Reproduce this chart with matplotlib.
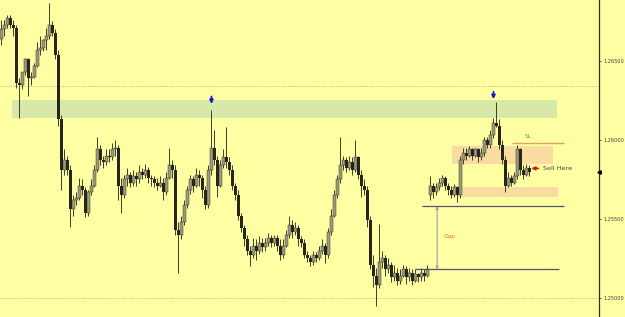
import matplotlib
matplotlib.use("Agg")
import matplotlib.pyplot as plt
import numpy as np

# hourly candles
opens = [1.2664, 1.2670, 1.2673, 1.2677, 1.2673, 1.2671, 1.2636, 1.2635, 1.2643, 1.2651,
         1.2639, 1.2640, 1.2647, 1.2657, 1.2658, 1.2663, 1.2666, 1.2673, 1.2668, 1.2654,
         1.2613, 1.2581, 1.2587, 1.2581, 1.2556, 1.2562, 1.2563, 1.2571, 1.2568, 1.2554,
         1.2567, 1.2571, 1.2581, 1.2594, 1.2587, 1.2586, 1.2590, 1.2589, 1.2594, 1.2595,
         1.2571, 1.2565, 1.2575, 1.2578, 1.2573, 1.2577, 1.2575, 1.2580, 1.2578, 1.2581,
         1.2576, 1.2575, 1.2573, 1.2571, 1.2573, 1.2567, 1.2576, 1.2584, 1.2581, 1.2543,
         1.2540, 1.2548, 1.2559, 1.2568, 1.2575, 1.2571, 1.2578, 1.2576, 1.2568, 1.2559,
         1.2581, 1.2595, 1.2587, 1.2571, 1.2584, 1.2589, 1.2586, 1.2581, 1.2571, 1.2565,
         1.2552, 1.2544, 1.2537, 1.2530, 1.2527, 1.2533, 1.2530, 1.2535, 1.2532, 1.2535,
         1.2538, 1.2535, 1.2538, 1.2533, 1.2527, 1.2533, 1.2540, 1.2546, 1.2542, 1.2544,
         1.2537, 1.2535, 1.2527, 1.2525, 1.2523, 1.2527, 1.2525, 1.2530, 1.2533, 1.2527,
         1.2542, 1.2552, 1.2565, 1.2575, 1.2584, 1.2587, 1.2582, 1.2586, 1.2581, 1.2589,
         1.2578, 1.2571, 1.2568, 1.2549, 1.2521, 1.2514, 1.2508, 1.2523, 1.2525, 1.2518,
         1.2521, 1.2513, 1.2516, 1.2511, 1.2514, 1.2518, 1.2513, 1.2516, 1.2511, 1.2515,
         1.2513, 1.2516, 1.2514, 1.2565, 1.2571, 1.2567, 1.2570, 1.2573, 1.2576, 1.2571,
         1.2568, 1.2565, 1.2570, 1.2565, 1.2587, 1.2592, 1.2590, 1.2594, 1.2590, 1.2594,
         1.2589, 1.2592, 1.2600, 1.2597, 1.2603, 1.2611, 1.2609, 1.2597, 1.2587, 1.2571,
         1.2576, 1.2573, 1.2577, 1.2594, 1.2581, 1.2578, 1.2582]
highs = [1.2676, 1.2676, 1.2679, 1.2679, 1.2676, 1.2673, 1.2639, 1.2643, 1.2652, 1.2652,
         1.2643, 1.2649, 1.2662, 1.2666, 1.2664, 1.2671, 1.2687, 1.2675, 1.2670, 1.2657,
         1.2616, 1.2594, 1.2590, 1.2584, 1.2565, 1.2567, 1.2576, 1.2575, 1.2570, 1.2568,
         1.2575, 1.2584, 1.2602, 1.2597, 1.2590, 1.2594, 1.2594, 1.2598, 1.2600, 1.2597,
         1.2576, 1.2578, 1.2582, 1.2580, 1.2581, 1.2580, 1.2584, 1.2582, 1.2585, 1.2583,
         1.2578, 1.2577, 1.2576, 1.2577, 1.2576, 1.2580, 1.2595, 1.2587, 1.2584, 1.2548,
         1.2552, 1.2562, 1.2571, 1.2578, 1.2577, 1.2582, 1.2581, 1.2578, 1.2571, 1.2584,
         1.2619, 1.2606, 1.2590, 1.2587, 1.2594, 1.2608, 1.2589, 1.2584, 1.2573, 1.2568,
         1.2554, 1.2546, 1.2540, 1.2533, 1.2538, 1.2537, 1.2539, 1.2538, 1.2538, 1.2541,
         1.2540, 1.2540, 1.2540, 1.2537, 1.2537, 1.2543, 1.2552, 1.2549, 1.2548, 1.2546,
         1.2539, 1.2537, 1.2530, 1.2527, 1.2530, 1.2529, 1.2533, 1.2537, 1.2535, 1.2544,
         1.2556, 1.2568, 1.2578, 1.2602, 1.2590, 1.2589, 1.2590, 1.2589, 1.2600, 1.2590,
         1.2581, 1.2575, 1.2571, 1.2552, 1.2527, 1.2519, 1.2547, 1.2530, 1.2527, 1.2525,
         1.2523, 1.2521, 1.2519, 1.2518, 1.2521, 1.2520, 1.2519, 1.2518, 1.2518, 1.2516,
         1.2519, 1.2518, 1.2521, 1.2577, 1.2573, 1.2573, 1.2576, 1.2578, 1.2577, 1.2573,
         1.2571, 1.2572, 1.2571, 1.2590, 1.2595, 1.2595, 1.2596, 1.2595, 1.2595, 1.2595,
         1.2595, 1.2602, 1.2602, 1.2606, 1.2614, 1.2624, 1.2613, 1.2600, 1.2590, 1.2580,
         1.2578, 1.2580, 1.2597, 1.2595, 1.2584, 1.2585, 1.2584]
lows = [1.2660, 1.2666, 1.2671, 1.2671, 1.2666, 1.2633, 1.2614, 1.2632, 1.2641, 1.2628,
        1.2635, 1.2639, 1.2646, 1.2654, 1.2656, 1.2657, 1.2664, 1.2666, 1.2651, 1.2609,
        1.2568, 1.2578, 1.2578, 1.2545, 1.2552, 1.2559, 1.2562, 1.2565, 1.2551, 1.2552,
        1.2565, 1.2570, 1.2580, 1.2584, 1.2582, 1.2584, 1.2586, 1.2587, 1.2590, 1.2562,
        1.2554, 1.2563, 1.2571, 1.2570, 1.2571, 1.2571, 1.2573, 1.2575, 1.2576, 1.2573,
        1.2571, 1.2570, 1.2568, 1.2570, 1.2562, 1.2565, 1.2575, 1.2576, 1.2540, 1.2516,
        1.2537, 1.2546, 1.2557, 1.2566, 1.2567, 1.2570, 1.2571, 1.2563, 1.2556, 1.2557,
        1.2578, 1.2584, 1.2564, 1.2570, 1.2582, 1.2582, 1.2578, 1.2568, 1.2562, 1.2549,
        1.2542, 1.2533, 1.2527, 1.2520, 1.2525, 1.2524, 1.2528, 1.2529, 1.2530, 1.2533,
        1.2532, 1.2533, 1.2530, 1.2524, 1.2525, 1.2532, 1.2538, 1.2538, 1.2540, 1.2533,
        1.2532, 1.2525, 1.2523, 1.2520, 1.2521, 1.2523, 1.2524, 1.2528, 1.2522, 1.2525,
        1.2540, 1.2551, 1.2563, 1.2573, 1.2581, 1.2580, 1.2581, 1.2578, 1.2580, 1.2575,
        1.2564, 1.2565, 1.2545, 1.2518, 1.2507, 1.2495, 1.2506, 1.2519, 1.2514, 1.2516,
        1.2510, 1.2511, 1.2508, 1.2509, 1.2513, 1.2509, 1.2511, 1.2508, 1.2510, 1.2510,
        1.2511, 1.2511, 1.2513, 1.2562, 1.2563, 1.2565, 1.2568, 1.2571, 1.2568, 1.2565,
        1.2563, 1.2564, 1.2561, 1.2563, 1.2585, 1.2587, 1.2589, 1.2587, 1.2589, 1.2586,
        1.2587, 1.2590, 1.2595, 1.2595, 1.2601, 1.2608, 1.2594, 1.2585, 1.2567, 1.2570,
        1.2571, 1.2572, 1.2575, 1.2578, 1.2575, 1.2577, 1.2577]
closes = [1.2670, 1.2673, 1.2677, 1.2673, 1.2671, 1.2636, 1.2635, 1.2643, 1.2651, 1.2639,
          1.2640, 1.2647, 1.2657, 1.2658, 1.2663, 1.2666, 1.2673, 1.2668, 1.2654, 1.2613,
          1.2581, 1.2587, 1.2581, 1.2556, 1.2562, 1.2563, 1.2571, 1.2568, 1.2554, 1.2567,
          1.2571, 1.2581, 1.2594, 1.2587, 1.2586, 1.2590, 1.2589, 1.2594, 1.2595, 1.2571,
          1.2565, 1.2575, 1.2578, 1.2573, 1.2577, 1.2575, 1.2580, 1.2578, 1.2581, 1.2576,
          1.2575, 1.2573, 1.2571, 1.2573, 1.2567, 1.2576, 1.2584, 1.2581, 1.2543, 1.2540,
          1.2548, 1.2559, 1.2568, 1.2575, 1.2571, 1.2578, 1.2576, 1.2568, 1.2559, 1.2581,
          1.2595, 1.2587, 1.2571, 1.2584, 1.2589, 1.2586, 1.2581, 1.2571, 1.2565, 1.2552,
          1.2544, 1.2537, 1.2530, 1.2527, 1.2533, 1.2530, 1.2535, 1.2532, 1.2535, 1.2538,
          1.2535, 1.2538, 1.2533, 1.2527, 1.2533, 1.2540, 1.2546, 1.2542, 1.2544, 1.2537,
          1.2535, 1.2527, 1.2525, 1.2523, 1.2527, 1.2525, 1.2530, 1.2533, 1.2527, 1.2542,
          1.2552, 1.2565, 1.2575, 1.2584, 1.2587, 1.2582, 1.2586, 1.2581, 1.2589, 1.2578,
          1.2571, 1.2568, 1.2549, 1.2521, 1.2514, 1.2508, 1.2523, 1.2525, 1.2518, 1.2521,
          1.2513, 1.2516, 1.2511, 1.2514, 1.2518, 1.2513, 1.2516, 1.2511, 1.2515, 1.2513,
          1.2516, 1.2514, 1.2518, 1.2571, 1.2567, 1.2570, 1.2573, 1.2576, 1.2571, 1.2568,
          1.2565, 1.2570, 1.2565, 1.2587, 1.2592, 1.2590, 1.2594, 1.2590, 1.2594, 1.2589,
          1.2592, 1.2600, 1.2597, 1.2603, 1.2611, 1.2609, 1.2597, 1.2587, 1.2571, 1.2576,
          1.2573, 1.2577, 1.2594, 1.2581, 1.2578, 1.2582, 1.2580]

# price levels of the hand-drawn objects
supply_zone = (1.2614, 1.2625)
sell_zone = (1.2585, 1.2596)
buy_zone = (1.2564, 1.2570)
stop_loss = 1.2598
gap_top = 1.2558
gap_bottom = 1.2518
dotted_levels = [1.2634, 1.2500]
peak_marks = [(70, 1.2624), (164, 1.2627)]
sell_price = 1.2582
ticks = [1.2500, 1.2550, 1.2600, 1.2650]
tick_labels = ["1.25000", "1.25500", "1.26000", "1.26500"]

bg = "#fefea2"
fig = plt.figure(figsize=(6.25, 3.17), dpi=100, facecolor=bg)
ax = fig.add_axes([0, 0, 599 / 625, 1])
ax.set_facecolor(bg)

# zones behind everything
ax.axhspan(*supply_zone, xmin=0.02, xmax=0.93, color="#d7e8a9", lw=0, zorder=0)
ax.axhspan(*sell_zone, xmin=0.755, xmax=0.923, color="#fadca0", lw=0, zorder=0)
ax.axhspan(*buy_zone, xmin=0.765, xmax=0.932, color="#fadca0", lw=0, zorder=0)
for lvl in dotted_levels:
    ax.axhline(lvl, color="#a8a898", lw=0.6, ls=(0, (1, 1.5)), zorder=0)

# candles
o = np.array(opens)
c = np.array(closes)
x = np.arange(len(o))
up = c >= o
ax.vlines(x, lows, highs, color="#3c3c2c", lw=0.7, zorder=2)
body_low = np.minimum(o, c)
body_h = np.maximum(np.abs(c - o), 0.00005)
ax.bar(x[up], body_h[up], bottom=body_low[up], width=0.8, color="#9c9c7a",
       edgecolor="#3c3c2c", lw=0.35, zorder=3)
ax.bar(x[~up], body_h[~up], bottom=body_low[~up], width=0.8, color="#26261c",
       lw=0, zorder=3)

# stop loss
ax.hlines(stop_loss, 170.2, 187.5, color="#e3a458", lw=1.0, zorder=4)
ax.text(174.5, stop_loss + 0.00025, "SL", fontsize=4.3, color="#c87830",
        ha="left", va="bottom")

# gap lines and arrow
ax.hlines(gap_top, 140.2, 187.5, color="#54547a", lw=0.9, zorder=4)
ax.hlines(gap_bottom, 137.8, 185.8, color="#54547a", lw=0.9, zorder=4)
ax.annotate("", xy=(145.2, gap_top), xytext=(145.2, gap_bottom),
            arrowprops=dict(arrowstyle="<->", color="#9a9ab0", lw=0.8,
                            mutation_scale=4, shrinkA=0, shrinkB=0))
ax.text(147.5, (gap_top + gap_bottom) / 2 + 0.0001, "Gap", fontsize=4.3,
        color="#d07a30", ha="left", va="center")

# blue arrows over the peaks
for px, py in peak_marks:
    ax.annotate("", xy=(px, py - 0.00012), xytext=(px, py + 0.00035),
                arrowprops=dict(arrowstyle="-|>", color="#1818c8", lw=1.3,
                                mutation_scale=5, shrinkA=0, shrinkB=0), zorder=5)

# sell here marker
ax.annotate("", xy=(176.6, sell_price), xytext=(179.0, sell_price),
            arrowprops=dict(arrowstyle="-|>", color="#d81818", lw=1.2,
                            mutation_scale=5, shrinkA=0, shrinkB=0), zorder=5)
ax.text(180.4, sell_price, "Sell Here", fontsize=4.6, color="#404040",
        ha="left", va="center")

ax.set_xlim(-0.5, 199.17)
ax.set_ylim(1.24879, 1.26886)

# price scale on the right
for s in ["top", "left", "bottom"]:
    ax.spines[s].set_visible(False)
ax.spines["right"].set_color("#303030")
ax.spines["right"].set_linewidth(0.9)
ax.set_xticks([])
ax.yaxis.tick_right()
ax.set_yticks(ticks)
ax.set_yticklabels(tick_labels)
ax.tick_params(axis="y", length=1.5, width=0.6, colors="#404040", labelsize=3.6, pad=1.5)
ax.plot([199.17], [closes[-1]], marker="<", ms=2.5, color="black",
        clip_on=False, zorder=6)

fig.savefig("out.png", dpi=100, facecolor=bg)
